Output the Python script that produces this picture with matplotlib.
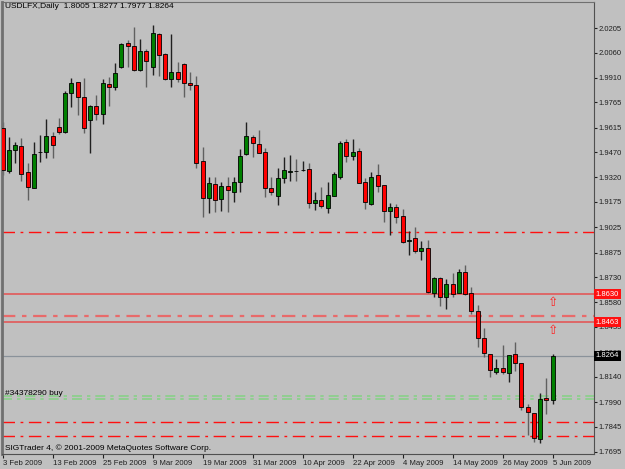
# USDLFX daily candles, MT4 style
import numpy as np
import pandas as pd
import matplotlib
matplotlib.use('Agg')
from matplotlib import pyplot as plt
from matplotlib import transforms

plt.rcParams['font.family'] = ['Liberation Sans', 'DejaVu Sans']

# daily OHLC, 3 Feb 2009 .. 5 Jun 2009
opens = [1.9615, 1.9358, 1.9483, 1.9508, 1.9354, 1.9260, 1.9468, 1.9473, 1.9566, 1.9617,
         1.9591, 1.9822, 1.9884, 1.9795, 1.9660, 1.9745, 1.9694, 1.9875, 1.9858, 1.9976,
         2.0116, 2.0099, 1.9956, 2.0069, 1.9976, 2.0168, 2.0051, 1.9903, 1.9943, 1.9992,
         1.9881, 1.9868, 1.9418, 1.9197, 1.9282, 1.9191, 1.9270, 1.9236, 1.9292, 1.9457,
         1.9562, 1.9518, 1.9473, 1.9256, 1.9212, 1.9315, 1.9352, 1.9361, 1.9362, 1.9370,
         1.9167, 1.9187, 1.9138, 1.9212, 1.9325, 1.9528, 1.9449, 1.9477, 1.9292, 1.9161,
         1.9335, 1.9276, 1.9122, 1.9147, 1.9092, 1.8945, 1.8960, 1.8885, 1.8901, 1.8638,
         1.8727, 1.8611, 1.8690, 1.8638, 1.8762, 1.8634, 1.8532, 1.8372, 1.8275, 1.8170,
         1.8191, 1.8161, 1.8275, 1.8224, 1.7963, 1.7928, 1.7772, 1.8013, 1.8005]
highs = [1.9650, 1.9558, 1.9532, 1.9552, 1.9408, 1.9532, 1.9572, 1.9665, 1.9591, 1.9674,
         1.9834, 1.9907, 1.9887, 1.9907, 1.9749, 1.9808, 1.9901, 1.9913, 2.0000, 2.0118,
         2.0134, 2.0213, 2.0138, 2.0079, 2.0223, 2.0177, 2.0055, 2.0170, 2.0006, 1.9996,
         1.9943, 1.9921, 1.9502, 1.9321, 1.9321, 1.9295, 1.9321, 1.9321, 1.9487, 1.9647,
         1.9572, 1.9601, 1.9493, 1.9321, 1.9375, 1.9440, 1.9453, 1.9428, 1.9420, 1.9404,
         1.9236, 1.9266, 1.9292, 1.9354, 1.9538, 1.9548, 1.9548, 1.9496, 1.9317, 1.9354,
         1.9400, 1.9276, 1.9171, 1.9163, 1.9132, 1.9005, 1.9025, 1.8946, 1.8950, 1.8733,
         1.8733, 1.8717, 1.8753, 1.8777, 1.8802, 1.8670, 1.8565, 1.8427, 1.8275, 1.8246,
         1.8328, 1.8269, 1.8344, 1.8224, 1.7979, 1.7928, 1.8046, 1.8131, 1.8277]
lows = [1.9335, 1.9345, 1.9408, 1.9299, 1.9187, 1.9256, 1.9414, 1.9434, 1.9434, 1.9576,
        1.9582, 1.9739, 1.9690, 1.9582, 1.9467, 1.9660, 1.9635, 1.9743, 1.9838, 1.9967,
        1.9972, 1.9950, 1.9953, 1.9858, 1.9927, 1.9921, 1.9897, 1.9858, 1.9887, 1.9795,
        1.9838, 1.9375, 1.9088, 1.9112, 1.9118, 1.9124, 1.9118, 1.9177, 1.9236, 1.9453,
        1.9443, 1.9463, 1.9206, 1.9216, 1.9157, 1.9289, 1.9301, 1.9299, 1.9358, 1.9141,
        1.9128, 1.9138, 1.9108, 1.9210, 1.9309, 1.9414, 1.9424, 1.9286, 1.9132, 1.9157,
        1.9236, 1.9058, 1.8980, 1.9049, 1.8930, 1.8861, 1.8875, 1.8832, 1.8634, 1.8614,
        1.8559, 1.8542, 1.8614, 1.8634, 1.8624, 1.8512, 1.8318, 1.8256, 1.8137, 1.8157,
        1.8157, 1.8111, 1.8176, 1.7944, 1.7796, 1.7756, 1.7747, 1.7920, 1.7977]
closes = [1.9364, 1.9483, 1.9512, 1.9339, 1.9266, 1.9457, 1.9471, 1.9566, 1.9512, 1.9591,
          1.9819, 1.9881, 1.9795, 1.9615, 1.9745, 1.9694, 1.9878, 1.9854, 1.9937, 2.0109,
          2.0100, 1.9956, 2.0069, 2.0011, 2.0174, 2.0045, 1.9903, 1.9943, 1.9903, 1.9878,
          1.9868, 1.9404, 1.9200, 1.9286, 1.9187, 1.9270, 1.9246, 1.9292, 1.9447, 1.9566,
          1.9523, 1.9467, 1.9260, 1.9232, 1.9315, 1.9364, 1.9356, 1.9359, 1.9363, 1.9167,
          1.9187, 1.9151, 1.9216, 1.9341, 1.9523, 1.9449, 1.9473, 1.9290, 1.9172, 1.9320,
          1.9270, 1.9122, 1.9144, 1.9088, 1.8936, 1.8947, 1.8885, 1.8904, 1.8640, 1.8723,
          1.8614, 1.8687, 1.8630, 1.8759, 1.8630, 1.8532, 1.8368, 1.8283, 1.8180, 1.8191,
          1.8170, 1.8269, 1.8224, 1.7963, 1.7930, 1.7776, 1.8009, 1.8003, 1.8264]

dates = pd.bdate_range('2009-02-03', '2009-06-05')
price_ticks = [2.0205, 2.0060, 1.9910, 1.9765, 1.9615, 1.9470, 1.9320, 1.9175, 1.9025,
               1.8875, 1.8730, 1.8580, 1.8435, 1.8285, 1.8140, 1.7990, 1.7845, 1.7695]

# horizontal levels
red_dashdot = [1.9000, 1.7871, 1.7790]
pale_dashdot = 1.8498
solid_levels = [1.8630, 1.8463]
buy_levels = [1.8026, 1.8007]
arrow_levels = [1.8579, 1.8413]
last_close = closes[-1]

bg = '#c0c0c0'
fig = plt.figure(figsize=(6.25, 4.69), dpi=100)
fig.patch.set_facecolor(bg)
ax = fig.add_axes([2/625, 15/469, 592/625, 452/469])
ax.set_facecolor(bg)

idx = np.arange(len(opens))
o = np.array(opens); h = np.array(highs); l = np.array(lows); c = np.array(closes)
up = c >= o

# levels first (behind candles)
for y in red_dashdot:
    ax.axhline(y, color='#ff1010', lw=1, dashes=(9, 4, 2, 4), zorder=1)
ax.axhline(pale_dashdot, color='#e86a6a', lw=1.6, dashes=(6, 3, 2, 3), zorder=1)
for y in solid_levels:
    ax.axhline(y, color='#e06060', lw=1.3, zorder=1)
for y in buy_levels:
    ax.axhline(y, color='#88d088', lw=1.2, dashes=(6, 3, 2, 3), zorder=1)
ax.axhline(last_close, color='#8a929a', lw=0.9, zorder=1)

# candles
wick_col = np.where(up, '#202020', '#606060')
ax.vlines(idx, l, h, colors=wick_col, lw=1, zorder=2)
body_h = np.maximum(np.abs(c - o), 0.00015)
ax.bar(idx, body_h, bottom=np.minimum(o, c), width=0.64,
       color=np.where(up, '#008000', '#ff0000'), edgecolor='black', lw=0.6, zorder=3)

for y in arrow_levels:
    ax.text(idx[-1], y, '\u21e7', color='#ff2020', fontsize=9, ha='center', va='center',
            family='DejaVu Sans', zorder=4)

ax.set_xlim(-0.11, 94.6)
ax.set_ylim(1.7683, 2.0359)

# axes look
for s in ax.spines.values():
    s.set_color('#707070')
ax.spines['left'].set_linewidth(2)
ax.spines['right'].set_color('#505050')
ax.spines['bottom'].set_color('#505050')

ax.yaxis.tick_right()
ax.set_yticks(price_ticks)
ax.set_yticklabels(['%.4f' % v for v in price_ticks])
ax.tick_params(axis='y', length=2, pad=1, labelsize=5.5, colors='#202020')

xt = idx[::8]
ax.set_xticks(xt)
ax.set_xticklabels([f'{d.day} {d:%b %Y}' for d in dates[::8]], ha='left')
ax.tick_params(axis='x', length=3, pad=1, labelsize=5.6, colors='#202020')

# price boxes on the right axis
tr = transforms.blended_transform_factory(ax.transAxes, ax.transData)
for y in solid_levels:
    ax.text(1.003, y, '%.4f' % y, transform=tr, color='white', fontsize=5.5, va='center',
            ha='left', bbox=dict(boxstyle='square,pad=0.2', fc='#ff1010', ec='none'), zorder=6)
ax.text(1.003, last_close, '%.4f' % last_close, transform=tr, color='white', fontsize=5.5,
        va='center', ha='left', bbox=dict(boxstyle='square,pad=0.2', fc='black', ec='none'), zorder=6)

fig.text(5/625, 1 - 3/469, 'USDLFX,Daily  %.4f %.4f %.4f %.4f' % (o[-1], h[-1], l[-1], c[-1]),
         fontsize=6, va='top', ha='left', color='black')
fig.text(5/625, 1 - 397/469, '#34378290 buy', fontsize=6, va='bottom', ha='left', color='black')
fig.text(5/625, 1 - 452/469, 'SIGTrader 4, \u00a9 2001-2009 MetaQuotes Software Corp.',
         fontsize=6, va='bottom', ha='left', color='black')

fig.savefig('out.png', dpi=100, facecolor=bg)
